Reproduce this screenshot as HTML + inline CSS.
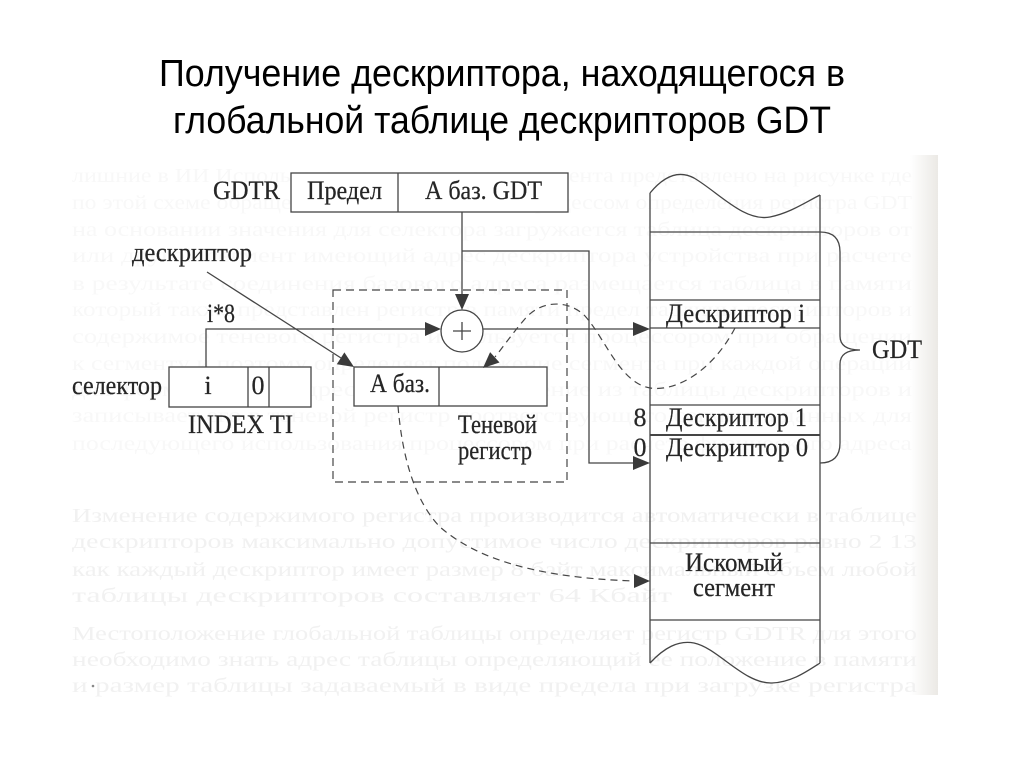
<!DOCTYPE html>
<html>
<head>
<meta charset="utf-8">
<style>
  html, body { margin:0; padding:0; background:#ffffff; }
  body { width:1024px; height:767px; overflow:hidden; }
  svg { display:block; }
  .t { font-family:"Liberation Serif", "DejaVu Serif", serif; fill:#262626; stroke:#262626; stroke-width:0.25; }
  .bl { font-family:"Liberation Serif", serif; font-size:20px; }
  .ttl { font-family:"Liberation Sans", "DejaVu Sans", sans-serif; font-size:38px; fill:#000; }
</style>
</head>
<body>
<svg width="1024" height="767" viewBox="0 0 1024 767" xmlns="http://www.w3.org/2000/svg">
  <defs>
    <linearGradient id="edge" x1="0" y1="0" x2="1" y2="0">
      <stop offset="0" stop-color="#ffffff"/>
      <stop offset="1" stop-color="#ebe9e5"/>
    </linearGradient>
  </defs>
  <rect x="0" y="0" width="1024" height="767" fill="#ffffff"/>

  <!-- Title -->
  <text class="ttl" x="159" y="86" textLength="686" lengthAdjust="spacingAndGlyphs">Получение дескриптора, находящегося в</text>
  <text class="ttl" x="173" y="133" textLength="658" lengthAdjust="spacingAndGlyphs">глобальной таблице дескрипторов GDT</text>

  <!-- Scan area background bleed-through -->
  <rect x="910" y="155" width="28" height="540" fill="url(#edge)"/>
  <g class="bl" fill="#f8f8f8">
    <text x="72" y="182" textLength="840" lengthAdjust="spacingAndGlyphs">лишние в ИИ Использование дескрипторов сегмента представлено на рисунке где</text>
    <text x="72" y="209" textLength="840" lengthAdjust="spacingAndGlyphs">по этой схеме обращения к памяти является процессом определения регистра GDT</text>
    <text x="72" y="236" textLength="840" lengthAdjust="spacingAndGlyphs">на основании значения для селектора загружается таблица дескрипторов от</text>
    <text x="72" y="262" textLength="840" lengthAdjust="spacingAndGlyphs">или другой сегмент имеющий адрес дескриптора устройства при расчете</text>
    <text x="72" y="290" textLength="840" lengthAdjust="spacingAndGlyphs">в результате соединения базового адреса размещается таблица в памяти</text>
    <text x="72" y="316" textLength="840" lengthAdjust="spacingAndGlyphs">который также представлен регистр в памяти предел таблицы дескрипторов и</text>
    <text x="72" y="343" textLength="840" lengthAdjust="spacingAndGlyphs">содержимое теневого регистра используется процессором при обращении</text>
    <text x="72" y="370" textLength="840" lengthAdjust="spacingAndGlyphs">к сегменту и поэтому определяет положение сегмента при каждой операции</text>
    <text x="72" y="396" textLength="840" lengthAdjust="spacingAndGlyphs">для формирования адреса выбирает значение из таблицы дескрипторов и</text>
    <text x="72" y="422" textLength="840" lengthAdjust="spacingAndGlyphs">записывает его в теневой регистр соответствующего сегмента данных для</text>
    <text x="72" y="450" textLength="840" lengthAdjust="spacingAndGlyphs">последующего использования процессором при расчете физического адреса</text>
  </g>
  <g class="bl" fill="#f1f1f1">
    <text x="72" y="522" textLength="845" lengthAdjust="spacingAndGlyphs">Изменение содержимого регистра производится автоматически в таблице</text>
    <text x="72" y="548" textLength="845" lengthAdjust="spacingAndGlyphs">дескрипторов максимально допустимое число дескрипторов равно 2 13</text>
    <text x="72" y="576" textLength="845" lengthAdjust="spacingAndGlyphs">как каждый дескриптор имеет размер 8 байт максимальный объем любой</text>
    <text x="72" y="602" textLength="600" lengthAdjust="spacingAndGlyphs">таблицы дескрипторов составляет 64 Кбайт</text>
    <text x="72" y="640" textLength="845" lengthAdjust="spacingAndGlyphs">Местоположение глобальной таблицы определяет регистр GDTR для этого</text>
    <text x="72" y="666" textLength="845" lengthAdjust="spacingAndGlyphs">необходимо знать адрес таблицы определяющий ее положение в памяти</text>
    <text x="72" y="692" textLength="845" lengthAdjust="spacingAndGlyphs">и размер таблицы задаваемый в виде предела при загрузке регистра</text>
  </g>
  <circle cx="93" cy="686" r="1.3" fill="#888"/>

  <!-- Diagram lines -->
  <g stroke="#454545" stroke-width="1.3" fill="none">
    <rect x="291" y="173" width="277" height="39" fill="#fff"/>
    <line x1="398" y1="173" x2="398" y2="212"/>
    <line x1="462" y1="212" x2="462" y2="295"/>
    <polyline points="462,251 589,251 589,463 634,463"/>
    <rect x="333" y="290" width="234" height="192" stroke-dasharray="8 5" stroke-width="1.2"/>
    <circle cx="462" cy="331" r="21" fill="#fff"/>
    <line x1="453" y1="331" x2="471" y2="331"/>
    <line x1="462" y1="322" x2="462" y2="340"/>
    <line x1="483" y1="329" x2="634" y2="329"/>
    <polyline points="206,367 206,329 426,329"/>
    <line x1="207" y1="272" x2="341" y2="358"/>
    <rect x="169" y="367" width="142" height="40" fill="#fff"/>
    <line x1="248" y1="367" x2="248" y2="407"/>
    <line x1="269" y1="367" x2="269" y2="407"/>
    <rect x="354" y="367" width="193" height="39" fill="#fff"/>
    <line x1="439" y1="367" x2="439" y2="406"/>
    <path d="M650,193 C664,176 679,170 694,178 C718,192 744,222 770,217 C790,213 806,202 820,195" />
    <line x1="650" y1="193" x2="650" y2="663"/>
    <line x1="820" y1="195" x2="820" y2="663"/>
    <line x1="650" y1="232" x2="820" y2="232"/>
    <line x1="650" y1="300" x2="820" y2="300"/>
    <line x1="650" y1="328" x2="820" y2="328"/>
    <line x1="650" y1="405" x2="820" y2="405"/>
    <line x1="650" y1="435" x2="820" y2="435" stroke-width="2"/>
    <line x1="650" y1="543" x2="820" y2="543"/>
    <line x1="650" y1="620" x2="820" y2="620"/>
    <path d="M650,663 C664,648 678,640 694,643 C718,648 744,684 772,683 C792,682 806,672 820,663"/>
    <path d="M820,232 Q840,232 840,252 L840,336 Q840,350 860,350 Q840,350 840,364 L840,443 Q840,463 820,463"/>
    <path d="M735,328 C712,372 675,392 650,388 C620,383 605,338 585,316 C568,299 540,300 524,320 C512,334 503,347 495,357" stroke-dasharray="7 5" stroke-width="1.2"/>
    <path d="M398,406 C402,455 414,500 440,527 C480,562 545,578 634,581" stroke-dasharray="7 5" stroke-width="1.2"/>
  </g>

  <!-- Arrowheads -->
  <g fill="#3a3a3a">
    <polygon points="462,310 455,294 469,294"/>
    <polygon points="441,329 425,322 425,336"/>
    <polygon points="650,329 633,322 633,336"/>
    <polygon points="650,463 633,456 633,470"/>
    <polygon points="354,367 336.8,364.2 344.4,352.4"/>
    <polygon points="483,368 499.5,362.5 490.1,352.1"/>
    <polygon points="650,581 634,574 634,588"/>
  </g>

  <!-- Diagram text -->
  <g class="t" font-size="26">
    <text x="213" y="199" textLength="67" lengthAdjust="spacingAndGlyphs">GDTR</text>
    <text x="307" y="199" textLength="75" lengthAdjust="spacingAndGlyphs">Предел</text>
    <text x="425" y="199" textLength="117" lengthAdjust="spacingAndGlyphs">А баз. GDT</text>
    <text x="132" y="261" textLength="120" lengthAdjust="spacingAndGlyphs">дескриптор</text>
    <text x="207" y="322" textLength="28" lengthAdjust="spacingAndGlyphs">i*8</text>
    <text x="72" y="394" textLength="90" lengthAdjust="spacingAndGlyphs">селектор</text>
    <text x="208" y="394" text-anchor="middle">i</text>
    <text x="258" y="394" text-anchor="middle">0</text>
    <text x="188" y="433" textLength="105" lengthAdjust="spacingAndGlyphs">INDEX TI</text>
    <text x="370" y="392" textLength="60" lengthAdjust="spacingAndGlyphs">А баз.</text>
    <text x="458" y="433" textLength="79" lengthAdjust="spacingAndGlyphs">Теневой</text>
    <text x="458" y="459" textLength="74" lengthAdjust="spacingAndGlyphs">регистр</text>
    <text x="666" y="322" textLength="139" lengthAdjust="spacingAndGlyphs">Дескриптор i</text>
    <text x="640" y="426" text-anchor="middle">8</text>
    <text x="666" y="426" textLength="141" lengthAdjust="spacingAndGlyphs">Дескриптор 1</text>
    <text x="640" y="456" text-anchor="middle">0</text>
    <text x="666" y="456" textLength="142" lengthAdjust="spacingAndGlyphs">Дескриптор 0</text>
    <text x="872" y="358" textLength="50" lengthAdjust="spacingAndGlyphs">GDT</text>
    <text x="685" y="571" textLength="98" lengthAdjust="spacingAndGlyphs">Искомый</text>
    <text x="693" y="596" textLength="82" lengthAdjust="spacingAndGlyphs">сегмент</text>
  </g>
</svg>
</body>
</html>
